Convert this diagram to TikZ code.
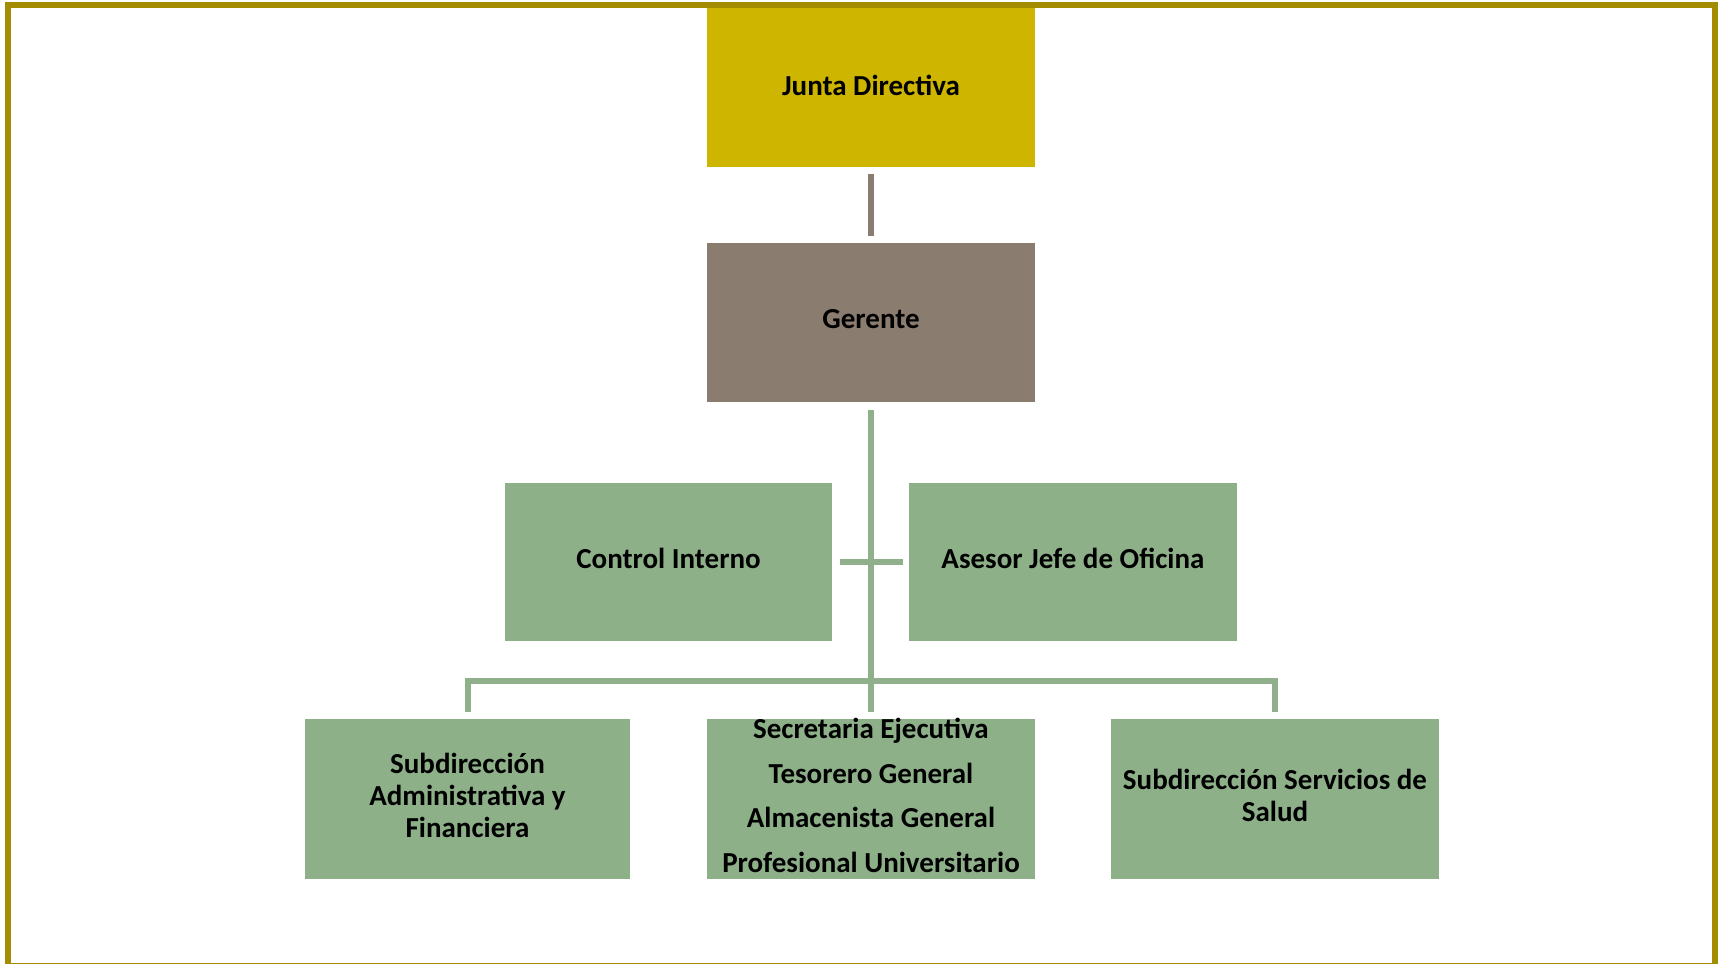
\documentclass[tikz,border=0pt]{standalone}
\usepackage{fontspec}
\setmainfont{Carlito}
\definecolor{framec}{RGB}{163,140,0}
\definecolor{juntac}{RGB}{205,181,0}
\definecolor{gerc}{RGB}{139,124,112}
\definecolor{greenc}{RGB}{141,176,137}
\definecolor{glinec}{RGB}{143,176,139}
\begin{document}
\begin{tikzpicture}[x=1pt,y=-1pt,
  txt/.style={inner sep=0pt, align=center, text=black, yshift=3.5pt, font=\fontsize{29}{32.4}\selectfont\bfseries},
  box/.style={inner sep=0pt},
  gbox/.style={box, fill=greenc},
  gline/.style={draw=glinec, line width=6pt},
  bline/.style={draw=gerc, line width=6pt}]
\useasboundingbox (0,0) rectangle (1722,964);
\fill[white] (0,0) rectangle (1722,964);
% nodes
\node[box, fill=juntac, minimum width=328pt, minimum height=162pt,
  label={[txt, yshift=-2.5pt]center:Junta Directiva}] (junta) at (871,86) {};
\node[box, fill=gerc, minimum width=328pt, minimum height=159pt,
  label={[txt]center:Gerente}] (gerente) at (871,322.5) {};
\node[gbox, minimum width=327pt, minimum height=158pt,
  label={[txt]center:Control Interno}] (control) at (668.5,562) {};
\node[gbox, minimum width=328pt, minimum height=158pt,
  label={[txt]center:Asesor Jefe de Oficina}] (asesor) at (1073,562) {};
\node[gbox, minimum width=325pt, minimum height=160pt,
  label={[txt]center:{Subdirección\\Administrativa y\\Financiera}}] (sub1) at (467.5,799) {};
\node[gbox, minimum width=328pt, minimum height=160pt,
  label={[txt, font=\fontsize{29}{44.7}\selectfont\bfseries]center:{Secretaria Ejecutiva\\Tesorero General\\Almacenista General\\Profesional Universitario}}] (mid) at (871,799) {};
\node[gbox, minimum width=328pt, minimum height=160pt,
  label={[txt]center:{Subdirección Servicios de\\Salud}}] (sub3) at (1275,799) {};
\coordinate (bus) at (871,681);
% connectors
\draw[bline, shorten <=7pt, shorten >=7pt] (junta.south) -- (gerente.north);
\draw[gline, shorten <=8pt, shorten >=7pt] (gerente.south) -- (mid.north);
\draw[gline, shorten <=8pt, shorten >=6pt] (control.east) -- (asesor.west);
\draw[gline] ([yshift=7pt]sub1.north) -- (sub1.north |- bus) -- (sub3.north |- bus) -- ([yshift=7pt]sub3.north);
% frame
\draw[framec, line width=6pt] (8,5) rectangle (1715,966);
\end{tikzpicture}
\end{document}
